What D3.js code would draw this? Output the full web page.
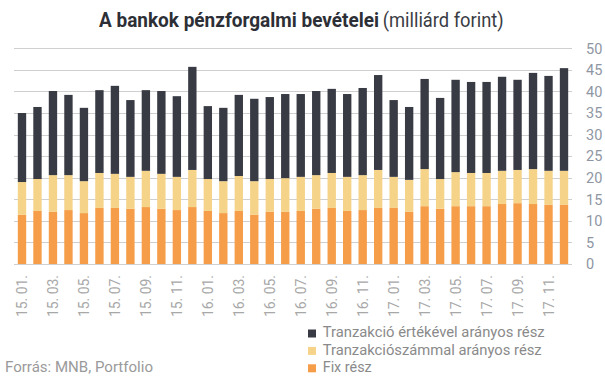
<!DOCTYPE html>
<html>
<head>
<meta charset="utf-8">
<script src="https://cdnjs.cloudflare.com/ajax/libs/d3/7.8.5/d3.min.js"></script>
<style>
  body { margin: 0; background: #fff; }
  svg { display: block; font-family: Roboto, sans-serif; }
</style>
</head>
<body>
<script>
// months 2015.01 - 2017.12
var months = [];
[15, 16, 17].forEach(function(y) {
  for (var m = 1; m <= 12; m++) {
    months.push(y + ". " + (m < 10 ? "0" + m : m) + ".");
  }
});

// Fix rész
var fixPart = [11.4, 12.3, 12.1, 12.5, 11.8, 13.0, 13.0, 12.8, 13.2, 12.8, 12.5, 13.2,
               12.3, 11.8, 12.3, 11.4, 12.1, 12.1, 12.3, 12.8, 13.0, 12.3, 12.5, 13.0,
               13.0, 12.1, 13.4, 12.8, 13.4, 13.4, 13.4, 13.9, 14.1, 13.9, 13.7, 13.7];
// Tranzakciószámmal arányos rész (top of this layer)
var countTop = [19.0, 19.7, 20.6, 20.6, 19.2, 21.1, 20.9, 20.2, 21.6, 20.9, 20.2, 21.8,
                19.7, 19.2, 20.4, 19.2, 19.7, 19.9, 20.2, 20.6, 21.1, 20.2, 20.6, 21.8,
                20.2, 19.5, 22.0, 19.7, 21.3, 21.1, 21.1, 21.6, 21.8, 22.0, 21.6, 21.6];
// total (top of Tranzakció értékével arányos rész)
var totals = [35.0, 36.4, 40.1, 39.2, 36.2, 40.3, 41.3, 38.0, 40.3, 40.1, 38.9, 45.7,
              36.6, 36.2, 39.2, 38.3, 38.7, 39.4, 39.4, 40.1, 40.6, 39.4, 40.8, 43.8,
              38.0, 36.4, 42.9, 38.5, 42.7, 42.2, 42.2, 43.4, 42.7, 44.3, 43.6, 45.4];

var seriesNames = ["Tranzakció értékével arányos rész", "Tranzakciószámmal arányos rész", "Fix rész"];
var yTicks = [0, 5, 10, 15, 20, 25, 30, 35, 40, 45, 50];

var colors = {
  value: "#383b44",
  count: "#f5d389",
  fix: "#f59d48"
};

var data = months.map(function(m, i) {
  return {month: m, fix: fixPart[i], count: countTop[i] - fixPart[i], value: totals[i] - countTop[i]};
});

var width = 605, height = 378;

var svg = d3.select("body").append("svg")
    .attr("width", width)
    .attr("height", height);

var x = d3.scaleBand()
    .domain(months)
    .range([14.25, 571.75])
    .paddingInner(0.46)
    .paddingOuter(0.23);

var y = d3.scaleLinear()
    .domain([0, 50])
    .range([264, 48.3]);

// gridlines
svg.append("g")
  .selectAll("line")
  .data(yTicks)
  .enter()
  .append("line")
    .attr("x1", 14)
    .attr("x2", 572)
    .attr("y1", function(d) { return Math.round(y(d)) + 0.5; })
    .attr("y2", function(d) { return Math.round(y(d)) + 0.5; })
    .attr("stroke", "#cfcfcf")
    .attr("stroke-width", 1);

// y labels on the right
svg.append("g")
  .selectAll("text")
  .data(yTicks)
  .enter()
  .append("text")
    .attr("x", 586)
    .attr("y", function(d) { return y(d); })
    .attr("dy", "0.36em")
    .attr("font-size", "14.5px")
    .attr("fill", "#8f96a3")
    .text(function(d) { return d; });

// stacked bars
var stack = d3.stack().keys(["fix", "count", "value"]);
var layers = stack(data);

svg.append("g")
  .selectAll("g")
  .data(layers)
  .enter()
  .append("g")
    .attr("fill", function(d) { return colors[d.key]; })
  .selectAll("rect")
  .data(function(d) { return d; })
  .enter()
  .append("rect")
    .attr("x", function(d) { return x(d.data.month); })
    .attr("width", x.bandwidth())
    .attr("y", function(d) { return y(d[1]); })
    .attr("height", function(d) { return y(d[0]) - y(d[1]); });

// x labels, every second month
svg.append("g")
  .selectAll("text")
  .data(months.filter(function(d, i) { return i % 2 === 0; }))
  .enter()
  .append("text")
    .attr("transform", function(d) {
      return "translate(" + (x(d) + x.bandwidth() / 2) + ",275) rotate(-90)";
    })
    .attr("dy", "0.36em")
    .attr("text-anchor", "end")
    .attr("font-size", "14px")
    .attr("fill", "#a8a8a8")
    .attr("textLength", 42)
    .attr("lengthAdjust", "spacingAndGlyphs")
    .text(function(d) { return d; });

// title
svg.append("text")
    .attr("x", 99)
    .attr("y", 26.7)
    .attr("font-size", "19.5px")
    .attr("font-weight", "bold")
    .attr("fill", "#2d2f36")
    .attr("textLength", 280)
    .attr("lengthAdjust", "spacingAndGlyphs")
    .text("A bankok pénzforgalmi bevételei");

svg.append("text")
    .attr("x", 382.7)
    .attr("y", 26.7)
    .attr("font-size", "19.5px")
    .attr("fill", "#3a3c44")
    .attr("textLength", 121)
    .attr("lengthAdjust", "spacingAndGlyphs")
    .text("(milliárd forint)");

// legend
var legendKeys = ["value", "count", "fix"];
var legendWidths = [222, 219, 49];

var legend = svg.selectAll(".legend")
    .data(legendKeys)
    .enter()
    .append("g")
    .attr("class", "legend")
    .attr("transform", function(d, i) {
      return "translate(0," + (i * 17.4) + ")";
    });

legend.append("rect")
    .attr("x", 308)
    .attr("y", 329.5)
    .attr("width", 8)
    .attr("height", 8)
    .attr("fill", function(d) { return colors[d]; });

legend.append("text")
    .attr("x", 322.7)
    .attr("y", 337.3)
    .attr("font-size", "15.5px")
    .attr("fill", "#8a8a8a")
    .attr("textLength", function(d, i) { return legendWidths[i]; })
    .attr("lengthAdjust", "spacingAndGlyphs")
    .text(function(d, i) { return seriesNames[i]; });

// source
svg.append("text")
    .attr("x", 5)
    .attr("y", 372)
    .attr("font-size", "15.5px")
    .attr("fill", "#9a9a9a")
    .attr("textLength", 148)
    .attr("lengthAdjust", "spacingAndGlyphs")
    .text("Forrás: MNB, Portfolio");
</script>
</body>
</html>
